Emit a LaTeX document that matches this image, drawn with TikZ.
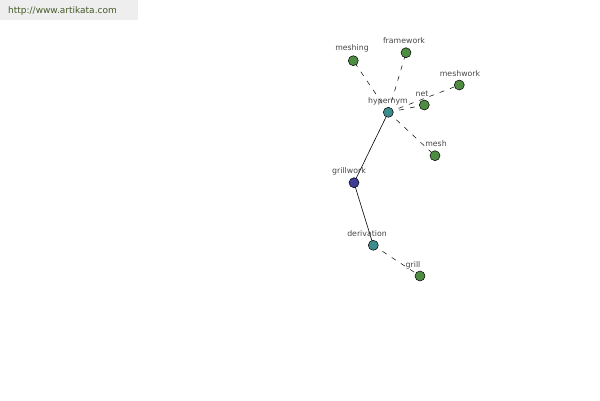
\documentclass[tikz,border=0pt]{standalone}
\usepackage{fontspec}
\setmainfont{DejaVu Sans}
\begin{document}
\begin{tikzpicture}[x=1pt,y=-1pt,
  vtx/.style={circle,draw=black,line width=0.5pt,minimum size=10pt,inner sep=0pt},
  green/.style={vtx,fill=nodegreen},
  teal/.style={vtx,fill=nodeteal},
  blue/.style={vtx,fill=nodeblue},
  lbl/.style={text=labelgray,font=\fontsize{7.8}{9}\selectfont,inner sep=0pt},
  dashedge/.style={draw=black,line width=0.5pt,dash pattern=on 5pt off 6pt},
  solidedge/.style={draw=black,line width=0.6pt}]
\definecolor{nodegreen}{RGB}{78,140,66}
\definecolor{nodeteal}{RGB}{62,140,140}
\definecolor{nodeblue}{RGB}{62,62,150}
\definecolor{labelgray}{RGB}{70,70,70}
\definecolor{bannerbg}{RGB}{238,238,238}
\definecolor{bannertext}{RGB}{70,90,40}
\useasboundingbox (0,0) rectangle (600,400);
\fill[bannerbg] (0,0) rectangle (138,20);
\node[anchor=west,text=bannertext,font=\fontsize{9}{10}\selectfont,inner sep=0pt] (banner) at (8,11) {http://www.artikata.com};
% edges first
\coordinate (phyp) at (388.3,112.3);
\coordinate (pnet) at (424.3,105);
\coordinate (pmeshwork) at (459.3,85);
\coordinate (pmeshing) at (353.3,60.7);
\coordinate (pframework) at (406,52.7);
\coordinate (pmesh) at (435,155.7);
\coordinate (pgrillwork) at (354,182.7);
\coordinate (pderiv) at (373.3,245.3);
\coordinate (pgrill) at (420,276);
\path[dashedge] (phyp) -- (pmeshing);
\path[dashedge] (phyp) -- (pframework);
\path[dashedge] (phyp) -- (pmeshwork);
\path[dashedge] (phyp) -- (pnet);
\path[dashedge] (phyp) -- (pmesh);
\path[solidedge] (phyp) -- (pgrillwork);
\path[solidedge] (pgrillwork) -- (pderiv);
\path[dashedge] (pderiv) -- (pgrill);
% labels
\node[lbl] (lmeshing) at (352,48) {meshing};
\node[lbl] (lframework) at (404,41) {framework};
\node[lbl] (lmeshwork) at (460,74) {meshwork};
\node[lbl] (lnet) at (422,94) {net};
\node[lbl] (lhyp) at (388,101) {hypernym};
\node[lbl] (lmesh) at (436,144) {mesh};
\node[lbl] (lgrillwork) at (349,171) {grillwork};
\node[lbl] (lderiv) at (367,234) {derivation};
\node[lbl] (lgrill) at (413,265) {grill};
% nodes
\node[teal] (hyp) at (phyp) {};
\node[green] (net) at (pnet) {};
\node[green] (meshwork) at (pmeshwork) {};
\node[green] (meshing) at (pmeshing) {};
\node[green] (framework) at (pframework) {};
\node[green] (mesh) at (pmesh) {};
\node[blue] (grillwork) at (pgrillwork) {};
\node[teal] (deriv) at (pderiv) {};
\node[green] (grill) at (pgrill) {};
\end{tikzpicture}
\end{document}
